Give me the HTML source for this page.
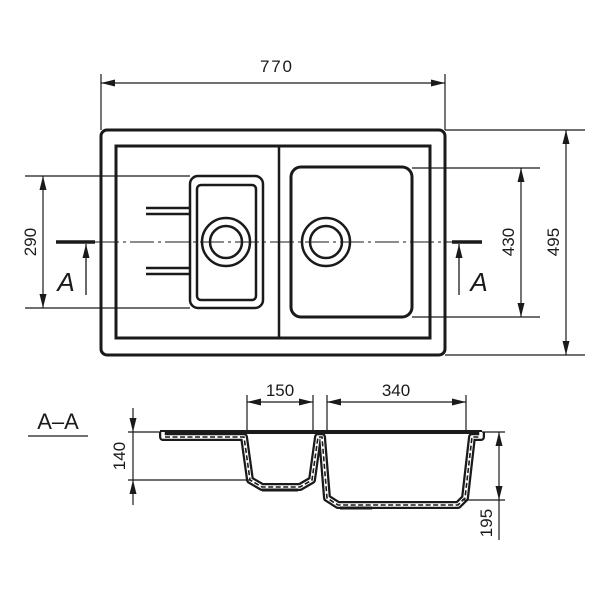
<!DOCTYPE html>
<html><head><meta charset="utf-8"><style>body{margin:0;background:#fff}svg{display:block}</style></head>
<body>
<svg width="600" height="600" viewBox="0 0 600 600" xmlns="http://www.w3.org/2000/svg" font-family="Liberation Sans, sans-serif">
<defs>
<marker id="ar" markerWidth="14" markerHeight="8" viewBox="0 0 14 8" refX="14" refY="4" orient="auto-start-reverse" markerUnits="userSpaceOnUse">
<path d="M0,0.5 L14,4 L0,7.5 Z" fill="#1a1a1a"/></marker>
</defs>
<g fill="none" stroke="#1a1a1a">
<rect x="101" y="130" width="344" height="225" rx="6" stroke-width="3"/>
<rect x="116" y="146" width="314" height="192" stroke-width="3"/>
<line x1="279" y1="146" x2="279" y2="338" stroke-width="2.5"/>
<rect x="190" y="176" width="73" height="132" rx="8" stroke-width="2.5"/>
<rect x="197" y="185" width="59" height="115" rx="4" stroke-width="2.5"/>
<rect x="291" y="167" width="121" height="150" rx="10" stroke-width="3"/>
<circle cx="226" cy="242" r="24" stroke-width="2.5"/>
<circle cx="226" cy="242" r="16" stroke-width="2.5"/>
<circle cx="326" cy="242" r="24" stroke-width="2.5"/>
<circle cx="326" cy="242" r="16" stroke-width="2.5"/>
<g stroke-width="2.5">
<line x1="146" y1="208" x2="190" y2="208"/><line x1="146" y1="214" x2="190" y2="214"/>
<line x1="146" y1="268" x2="190" y2="268"/><line x1="146" y1="274" x2="190" y2="274"/>
</g>
<line x1="95" y1="242" x2="452" y2="242" stroke-width="1" stroke-dasharray="24,4,3,4"/>
<line x1="56" y1="242" x2="95" y2="242" stroke-width="3.5"/>
<line x1="452" y1="242" x2="482" y2="242" stroke-width="3.5"/>
<line x1="86" y1="295" x2="86" y2="244" stroke-width="1.3" marker-end="url(#ar)"/>
<line x1="459" y1="295" x2="459" y2="244" stroke-width="1.3" marker-end="url(#ar)"/>
<g stroke-width="1.2">
<line x1="101" y1="74" x2="101" y2="130"/><line x1="445" y1="74" x2="445" y2="130"/>
<line x1="101" y1="83" x2="445" y2="83" marker-start="url(#ar)" marker-end="url(#ar)"/>
<line x1="25" y1="176" x2="190" y2="176"/><line x1="25" y1="308" x2="190" y2="308"/>
<line x1="43" y1="176" x2="43" y2="308" marker-start="url(#ar)" marker-end="url(#ar)"/>
<line x1="412" y1="168" x2="540" y2="168"/><line x1="412" y1="317" x2="540" y2="317"/>
<line x1="521" y1="168" x2="521" y2="317" marker-start="url(#ar)" marker-end="url(#ar)"/>
<line x1="445" y1="130" x2="585" y2="130"/><line x1="445" y1="355" x2="585" y2="355"/>
<line x1="566" y1="130" x2="566" y2="355" marker-start="url(#ar)" marker-end="url(#ar)"/>
</g>
<line x1="160" y1="432" x2="482" y2="432" stroke-width="4"/>
<path d="M163,432 L163,437 L244,437 L250,480 L262,487 L300,487 L312,480 L318,437 L322,437 L327,498 L338,505 L458,505 L465,498 L472,437 L481,437 L481,432" stroke-width="8" stroke-linejoin="round"/>
<path d="M163,432 L163,437 L244,437 L250,480 L262,487 L300,487 L312,480 L318,437 L322,437 L327,498 L338,505 L458,505 L465,498 L472,437 L481,437 L481,432" stroke="#fff" stroke-width="3.5" stroke-linejoin="round"/>
<path d="M165,437 L244,437 L250,480 L262,487 L300,487 L312,480 L318,437 L322,437 L327,498 L338,505 L458,505 L465,498 L472,437 L480,437" stroke-width="1.6" stroke-dasharray="5,2.5"/>
<line x1="262" y1="490" x2="298" y2="490" stroke-width="3"/>
<line x1="340" y1="508" x2="372" y2="508" stroke-width="3"/>
<g stroke-width="1.2">
<line x1="247" y1="395" x2="247" y2="432"/><line x1="313" y1="395" x2="313" y2="432"/>
<line x1="247" y1="402" x2="313" y2="402" marker-start="url(#ar)" marker-end="url(#ar)"/>
<line x1="327" y1="395" x2="327" y2="432"/><line x1="466" y1="395" x2="466" y2="432"/>
<line x1="327" y1="402" x2="466" y2="402" marker-start="url(#ar)" marker-end="url(#ar)"/>
<line x1="128" y1="432" x2="160" y2="432"/><line x1="128" y1="480" x2="250" y2="480"/>
<line x1="133" y1="408" x2="133" y2="432" marker-end="url(#ar)"/>
<line x1="133" y1="505" x2="133" y2="480" marker-end="url(#ar)"/>
<line x1="133" y1="432" x2="133" y2="480"/>
<line x1="482" y1="432" x2="505" y2="432"/><line x1="462" y1="500" x2="505" y2="500"/>
<line x1="499" y1="432" x2="499" y2="500" marker-start="url(#ar)" marker-end="url(#ar)"/>
<line x1="499" y1="500" x2="499" y2="540"/>
<line x1="28" y1="436" x2="88" y2="436"/>
</g>
</g>
<g fill="#1a1a1a" font-size="17">
<text x="276" y="72" text-anchor="middle" textLength="32">770</text>
<text transform="translate(36,242) rotate(-90)" text-anchor="middle">290</text>
<text transform="translate(514,242) rotate(-90)" text-anchor="middle">430</text>
<text transform="translate(559,242) rotate(-90)" text-anchor="middle">495</text>
<text x="280" y="396" text-anchor="middle">150</text>
<text x="396" y="396" text-anchor="middle">340</text>
<text transform="translate(125,456) rotate(-90)" text-anchor="middle">140</text>
<text transform="translate(492,523) rotate(-90)" text-anchor="middle">195</text>
<text x="58" y="429" text-anchor="middle" font-size="22">A–A</text>
<text x="66" y="291" text-anchor="middle" font-size="26" font-style="italic">A</text>
<text x="479" y="291" text-anchor="middle" font-size="26" font-style="italic">A</text>
</g>
</svg>
</body></html>
